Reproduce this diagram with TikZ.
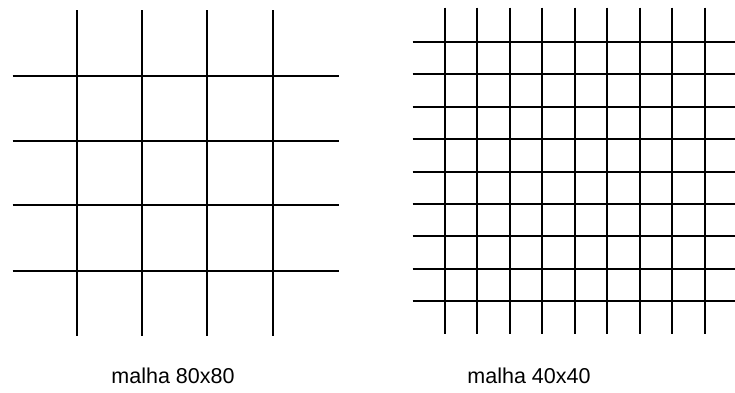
\documentclass[tikz,border=0pt]{standalone}
\usepackage{fontspec}
\setmainfont{Liberation Sans}
\usetikzlibrary{positioning}

\begin{document}
\begin{tikzpicture}[
  x=1pt, y=-1pt,
  gridline/.style={line width=1.4pt, black},
  caption/.style={font=\fontsize{21.5}{26}\selectfont, anchor=base, inner sep=0pt}
]
  \useasboundingbox (0,0) rectangle (735,392);

  % malha grossa
  \foreach \x in {77,142,207,273}
    \draw[gridline] (\x,10) -- (\x,336);
  \foreach \y in {76,141,205,271}
    \draw[gridline] (12.5,\y) -- (338.5,\y);
  \node[caption] (coarse) at (173,383) {malha 80x80};

  % malha fina
  \foreach \x in {445,477,510,542,575,607,640,672,705}
    \draw[gridline] (\x,7.5) -- (\x,334);
  \foreach \y in {42,74,107,139,172,204,236,269,301}
    \draw[gridline] (412.5,\y) -- (735,\y);
  \node[caption] (fine) at (529,383) {malha 40x40};
\end{tikzpicture}
\end{document}
